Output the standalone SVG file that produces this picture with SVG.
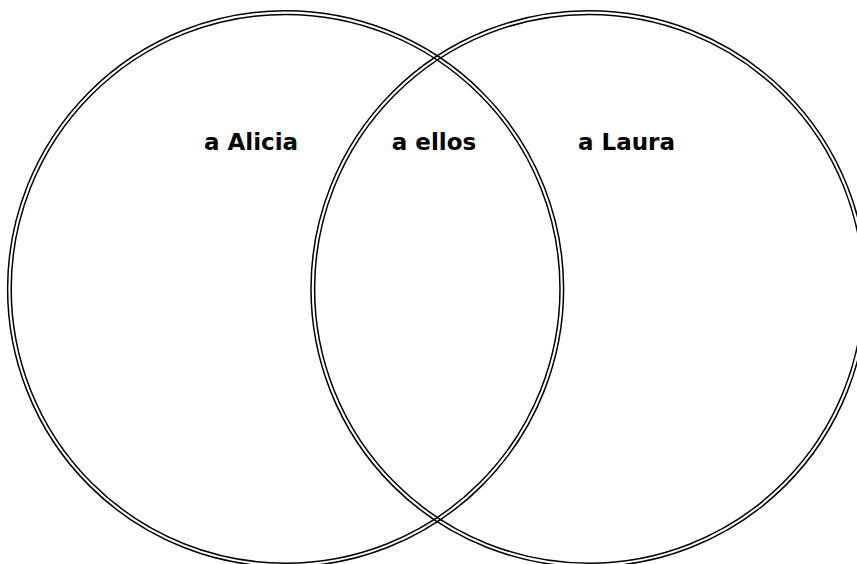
<svg xmlns="http://www.w3.org/2000/svg" width="857" height="564" viewBox="0 0 857 564">
<style>
.o{fill:none;stroke:#000;stroke-width:1.5}
.t{font-family:"DejaVu Sans","Open Sans",sans-serif;font-weight:700;font-size:23px;fill:#000;text-anchor:middle}
</style>
<rect width="857" height="564" fill="#fff"/>
<g id="connectors"/>
<g id="alicia">
<circle class="o" cx="285.6" cy="288.8" r="278"/>
<circle class="o" cx="285.6" cy="288.8" r="274.4"/>
<text class="t" x="251" y="150">a Alicia</text>
</g>
<g id="laura">
<circle class="o" cx="589" cy="288.8" r="278"/>
<circle class="o" cx="589" cy="288.8" r="274.4"/>
<text class="t" x="626.5" y="150">a Laura</text>
</g>
<g id="ellos">
<text class="t" x="434" y="150">a ellos</text>
</g>
</svg>
